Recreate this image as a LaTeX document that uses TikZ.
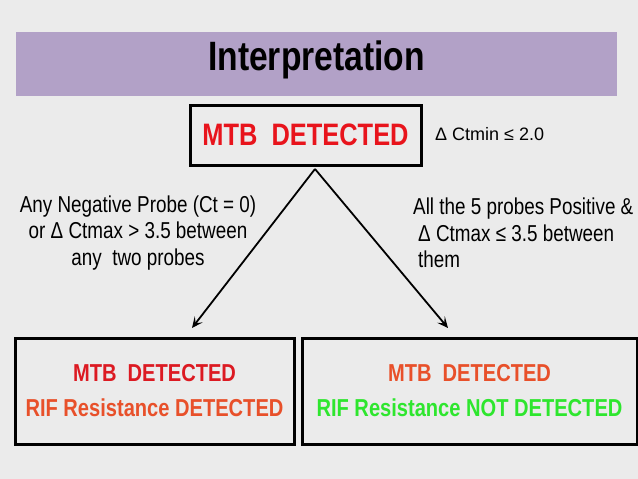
\documentclass[tikz,border=0pt]{standalone}
\usepackage{fontspec}
\setmainfont{Liberation Sans}
\newfontfamily\narrow[FakeStretch=0.82]{Liberation Sans}
\usetikzlibrary{arrows.meta}
\definecolor{bg}{HTML}{EBEBEB}
\definecolor{band}{HTML}{B2A1C7}
\definecolor{redA}{HTML}{E8141C}
\definecolor{redB}{HTML}{DC1A22}
\definecolor{orangeA}{HTML}{E8502A}
\definecolor{greenA}{HTML}{2EE62E}
\tikzset{
  box/.style={draw=black, line width=3pt, inner sep=0pt, fill=none},
  arr/.style={line width=1.8pt, -{Stealth[length=11pt,width=10pt,inset=5pt]}},
  cond/.style={font=\narrow\fontsize{23}{26.5}\selectfont, inner sep=0pt, align=center}
}
\begin{document}
\begin{tikzpicture}[x=1pt,y=-1pt]
\fill[bg] (0,0) rectangle (638,479);
\useasboundingbox (0,0) rectangle (638,479);
% title band
\fill[band] (16,32) rectangle (617,96);
\node (title) at (316.5,60) {\narrow\bfseries\fontsize{41}{48}\selectfont Interpretation};
% top box
\node[box, minimum width=231pt, minimum height=60pt] (top) at (305.5,135) {};
\node[text=redA, font=\narrow\bfseries\fontsize{31}{36}\selectfont] (toptxt) at (top.center) {MTB\ \ DETECTED};
\node[anchor=west, inner sep=0pt, font=\fontsize{18}{21}\selectfont] (ctmin) at (435,134) {Δ Ctmin ≤ 2.0};
% bottom boxes
\node[box, minimum width=279pt, minimum height=106pt] (lbox) at (154.5,391) {};
\node[box, minimum width=335pt, minimum height=106pt] (rbox) at (469.5,391) {};
\node[font=\narrow\bfseries\fontsize{24.5}{35}\selectfont, align=center] (ltxt) at (lbox.center)
  {\textcolor{redB}{MTB\ \ DETECTED}\\\textcolor{orangeA}{RIF Resistance DETECTED}};
\node[font=\narrow\bfseries\fontsize{24.5}{35}\selectfont, align=center] (rtxt) at (rbox.center)
  {\textcolor{orangeA}{MTB\ \ DETECTED}\\\textcolor{greenA}{RIF Resistance NOT DETECTED}};
% conditions
\node[cond] (lcond) at (138,233) {Any Negative Probe (Ct = 0)\\or Δ Ctmax > 3.5 between\\any\ \ two probes};
\node[cond, align=left, anchor=west] (rcond) at (413,233) {All the 5 probes Positive \&\\\hspace{5pt}Δ Ctmax ≤ 3.5 between\\\hspace{5pt}them};
% arrows
\coordinate (apex) at (315,169);
\coordinate (ltip) at (192,328);
\coordinate (rtip) at (448,328);
\draw[arr] (apex) -- (ltip);
\draw[arr] (apex) -- (rtip);
\end{tikzpicture}
\end{document}
